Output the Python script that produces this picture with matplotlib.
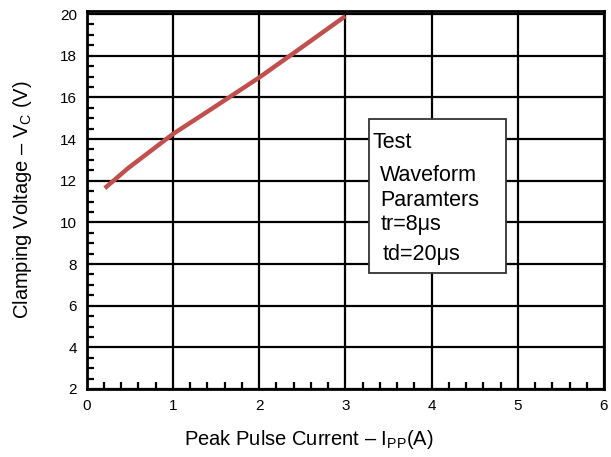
import matplotlib
matplotlib.use("Agg")
import matplotlib.pyplot as plt
from matplotlib.patches import Rectangle
from matplotlib.ticker import MultipleLocator

plt.rcParams['font.family'] = ['Liberation Sans', 'DejaVu Sans']
plt.rcParams['mathtext.fontset'] = 'custom'
plt.rcParams['mathtext.rm'] = 'Liberation Sans'

current = [0.21, 0.48, 1.0, 1.45, 2.0, 2.49, 3.0]
voltage = [11.64, 12.60, 14.24, 15.45, 16.95, 18.39, 19.9]
xticks = [0, 1, 2, 3, 4, 5, 6]
yticks = [2, 4, 6, 8, 10, 12, 14, 16, 18, 20]
box_lines = ["Test", "Waveform", "Paramters", "tr=8\u03bcs", "td=20\u03bcs"]

fig = plt.figure(figsize=(6.11, 4.57), dpi=100)
ax = fig.add_axes([86.7/611, 1-389/457, 517.3/611, 378.3/457])
ax.set_xlim(0, 6)
ax.set_ylim(2, 20.16)
ax.set_xticks(xticks)
ax.set_yticks(yticks)
ax.xaxis.set_minor_locator(MultipleLocator(0.2))
ax.yaxis.set_minor_locator(MultipleLocator(0.5))
ax.grid(True, which='major', color='black', linewidth=1.6, zorder=1)
ax.tick_params(which='both', direction='in', labelsize=11, colors='black')
ax.tick_params(which='major', length=0, pad=7)
ax.tick_params(which='minor', length=5, width=1.6)
for s in ax.spines.values():
    s.set_linewidth(2)
    s.set_zorder(3)

ax.plot(current, voltage, color='#C0504D', linewidth=3.2, solid_capstyle='butt', zorder=4)

ax.add_patch(Rectangle((3.275, 7.57), 1.585, 7.39, facecolor='white',
                       edgecolor='#333333', linewidth=1.3, zorder=5))
xs = [3.31, 3.40, 3.40, 3.41, 3.43]
ys = [13.81, 12.23, 11.07, 9.92, 8.48]
for t, x, y in zip(box_lines, xs, ys):
    ax.text(x, y, t, fontsize=15.5, ha='left', va='center', zorder=6)

ax.set_xlabel("Peak Pulse Current \u2013 I$_{\\mathregular{PP}}$(A)", fontsize=14.5)
ax.set_ylabel("Clamping Voltage \u2013 V$_{\\mathregular{C}}$ (V)", fontsize=14.5)
ax.xaxis.set_label_coords(0.43, -0.103)
ax.yaxis.set_label_coords(-0.102, 0.5)

fig.savefig("out.png", dpi=100)
